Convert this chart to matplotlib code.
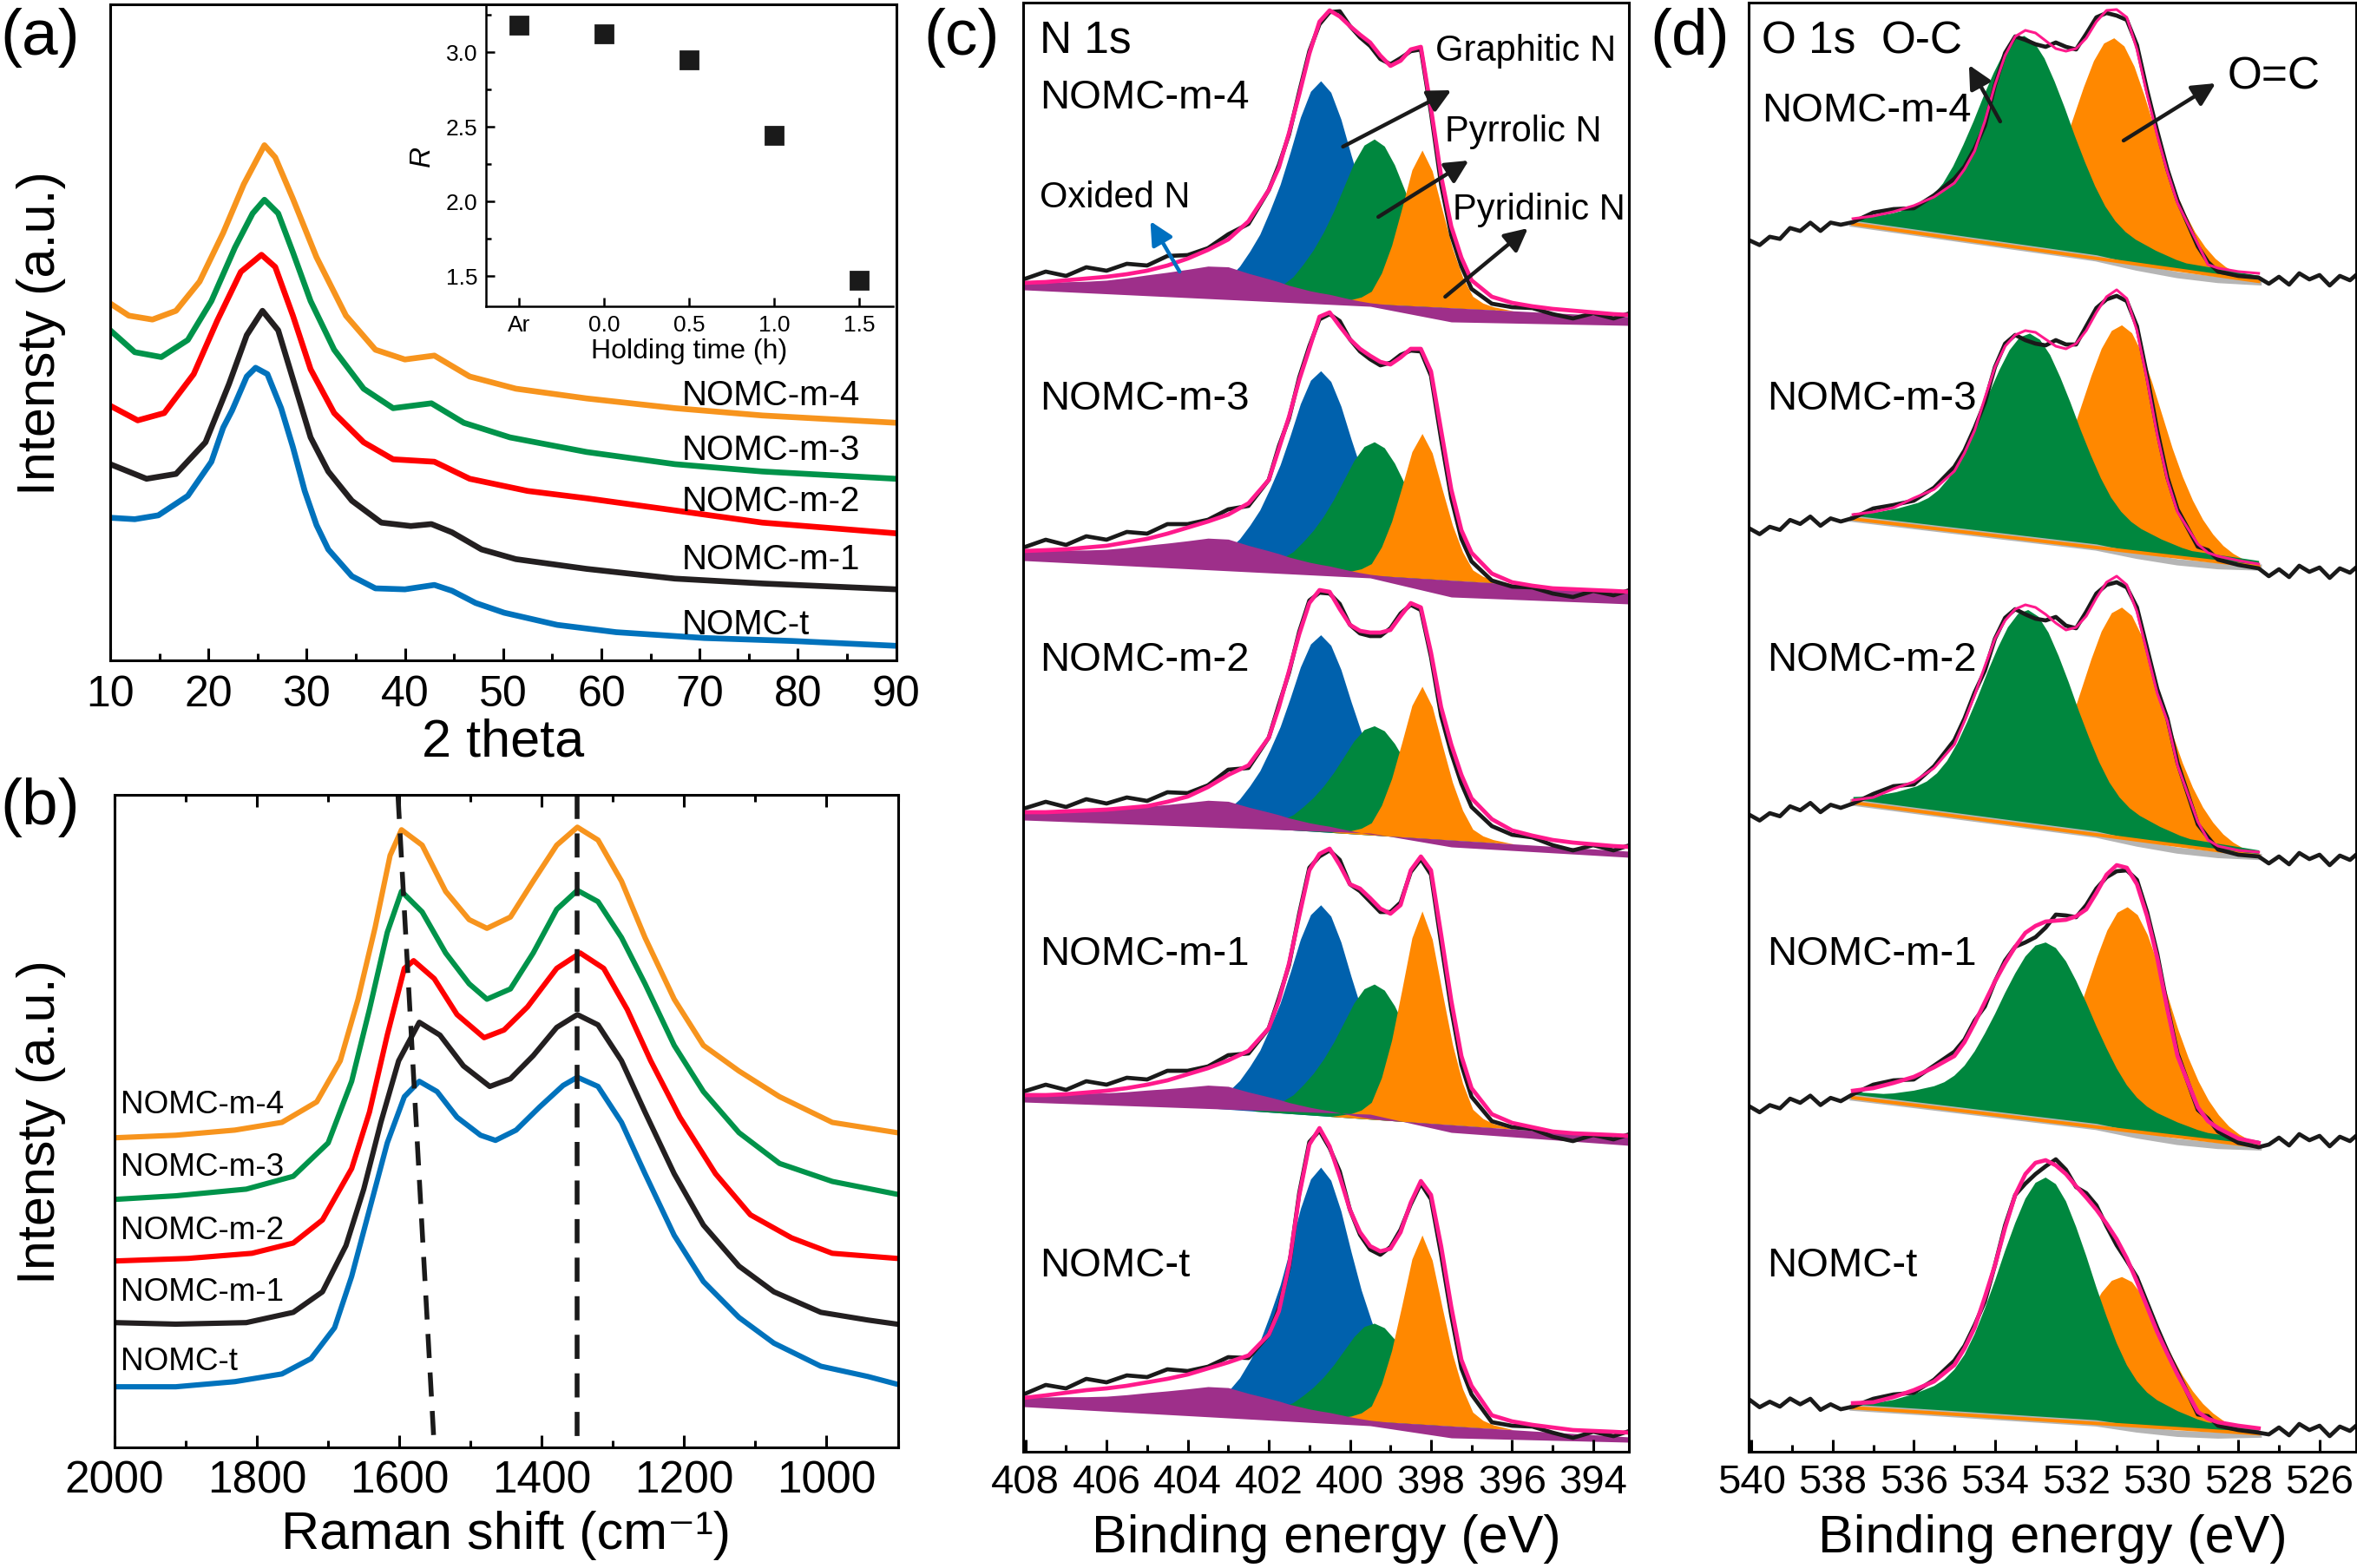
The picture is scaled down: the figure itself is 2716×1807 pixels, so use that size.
import numpy as np
import matplotlib
matplotlib.use("Agg")
import matplotlib.pyplot as plt
from matplotlib.ticker import MultipleLocator

plt.rcParams["font.family"] = ["Liberation Sans", "DejaVu Sans"]
plt.rcParams["axes.linewidth"] = 1.1
plt.rcParams["xtick.direction"] = "in"
plt.rcParams["ytick.direction"] = "in"

samples = ["NOMC-t", "NOMC-m-1", "NOMC-m-2", "NOMC-m-3", "NOMC-m-4"]
line_colors = {"NOMC-t": "#0072BC", "NOMC-m-1": "#231F20", "NOMC-m-2": "#FF0000",
               "NOMC-m-3": "#00934A", "NOMC-m-4": "#F7941D"}

# ---------------- (a) XRD ----------------
xrd_2theta = {
    "NOMC-t": [10.0, 12.5, 14.9, 17.9, 20.3, 21.5, 22.4, 23.9, 24.8, 26.0, 27.4, 28.6, 29.8, 31.0,
               32.2, 34.6, 37.0, 40.0, 43.0, 44.8, 47.2, 50.1, 55.5, 61.5, 70.5, 79.4, 90.0],
    "NOMC-m-1": [10.0, 13.7, 16.7, 19.7, 22.1, 23.9, 25.5, 27.1, 28.6, 30.4, 32.2, 34.6, 37.6, 40.6,
                 42.7, 44.8, 47.8, 51.3, 58.5, 67.5, 76.4, 90.0],
    "NOMC-m-2": [10.0, 12.8, 15.5, 18.5, 20.9, 23.3, 25.4, 26.8, 28.6, 30.4, 32.8, 35.8, 38.8, 43.0,
                 46.6, 52.5, 58.5, 67.5, 76.4, 90.0],
    "NOMC-m-3": [10.0, 12.5, 15.2, 17.9, 20.3, 22.7, 24.5, 25.7, 27.1, 28.6, 30.4, 32.8, 35.8, 38.8,
                 42.7, 46.0, 50.7, 58.5, 67.5, 76.4, 90.0],
    "NOMC-m-4": [10.0, 11.9, 14.3, 16.7, 19.1, 21.5, 23.6, 25.7, 26.8, 28.6, 31.0, 34.0, 37.0, 40.0,
                 43.0, 46.6, 51.3, 58.5, 67.5, 76.4, 90.0],
}
xrd_int = {
    "NOMC-t": [292, 289, 297, 337, 407, 477, 512, 582, 600, 587, 517, 437, 347, 277,
               227, 172, 147, 145, 154, 142, 117, 97, 72, 57, 45, 39, 29],
    "NOMC-m-1": [402, 372, 382, 447, 567, 667, 717, 677, 577, 457, 387, 327, 282, 275,
                 279, 262, 227, 207, 187, 167, 157, 145],
    "NOMC-m-2": [522, 492, 507, 587, 697, 797, 832, 807, 707, 597, 507, 447, 412, 407,
                 372, 347, 332, 307, 282, 260],
    "NOMC-m-3": [677, 632, 622, 657, 737, 847, 917, 945, 917, 837, 737, 637, 557, 517,
                 527, 487, 457, 427, 402, 387, 372],
    "NOMC-m-4": [732, 707, 699, 717, 777, 877, 977, 1057, 1032, 947, 827, 707, 637, 617,
                 625, 582, 557, 537, 517, 502, 487],
}
xrd_label_y = {"NOMC-t": 74, "NOMC-m-1": 207, "NOMC-m-2": 327, "NOMC-m-3": 432, "NOMC-m-4": 545}

hold_labels = ["Ar", "0.0", "0.5", "1.0", "1.5"]
hold_R = [3.18, 3.12, 2.945, 2.44, 1.47]

# ---------------- (b) Raman ----------------
raman_shift = {
    "NOMC-t": [2000, 1914, 1831, 1765, 1724, 1691, 1667, 1642, 1617, 1593, 1572, 1547, 1519, 1486, 1465,
               1436, 1403, 1370, 1350, 1321, 1288, 1255, 1214, 1173, 1123, 1074, 1008, 942, 901],
    "NOMC-m-1": [2000, 1914, 1815, 1749, 1708, 1675, 1650, 1626, 1601, 1572, 1543, 1510, 1473, 1444,
                 1412, 1379, 1350, 1321, 1288, 1255, 1214, 1173, 1123, 1074, 1008, 942, 901],
    "NOMC-m-2": [2000, 1897, 1807, 1749, 1708, 1667, 1642, 1617, 1593, 1580, 1551, 1519, 1481, 1453,
                 1420, 1379, 1346, 1313, 1280, 1247, 1206, 1156, 1107, 1049, 992, 901],
    "NOMC-m-3": [2000, 1914, 1815, 1749, 1700, 1667, 1642, 1617, 1597, 1568, 1535, 1502, 1477, 1444,
                 1412, 1379, 1350, 1321, 1288, 1255, 1214, 1173, 1123, 1066, 992, 901],
    "NOMC-m-4": [2000, 1914, 1831, 1765, 1716, 1683, 1658, 1634, 1613, 1597, 1568, 1535, 1502, 1477,
                 1444, 1412, 1379, 1350, 1321, 1288, 1255, 1214, 1173, 1123, 1066, 992, 901],
}
raman_int = {
    "NOMC-t": [118, 118, 128, 143, 173, 233, 333, 463, 593, 683, 713, 693, 643, 608, 598,
               618, 663, 705, 721, 703, 633, 533, 413, 323, 253, 203, 158, 138, 123],
    "NOMC-m-1": [243, 240, 243, 263, 303, 393, 503, 633, 753, 828, 803, 743, 703, 718,
                 763, 818, 843, 823, 753, 653, 533, 433, 353, 303, 263, 248, 240],
    "NOMC-m-2": [363, 368, 378, 398, 443, 543, 653, 803, 933, 948, 913, 843, 798, 813,
                 858, 933, 963, 933, 853, 753, 643, 533, 453, 408, 378, 368],
    "NOMC-m-3": [483, 490, 503, 528, 593, 713, 853, 1003, 1083, 1043, 963, 903, 873, 893,
                 963, 1048, 1085, 1063, 993, 903, 783, 693, 613, 553, 518, 493],
    "NOMC-m-4": [603, 608, 618, 633, 673, 753, 873, 1013, 1153, 1203, 1173, 1083, 1028, 1011,
                 1033, 1103, 1173, 1208, 1183, 1103, 993, 873, 783, 733, 683, 633, 613],
}
raman_label_y = {"NOMC-t": 168, "NOMC-m-1": 303, "NOMC-m-2": 423, "NOMC-m-3": 546, "NOMC-m-4": 668}
raman_dash_x = [[1602, 1551], [1350, 1350]]

# ---------------- (c) N 1s ----------------
n1s_be = [408.05, 407.5, 407, 406.5, 406, 405.5, 405, 404.5, 404, 403.5, 403, 402.5, 402, 401.75,
          401.5, 401.25, 401, 400.75, 400.5, 400.25, 400, 399.75, 399.5, 399.25, 399, 398.75, 398.5,
          398.25, 398, 397.75, 397.5, 397.25, 397, 396.5, 396, 395.5, 395, 394.5, 394, 393.5, 393.1]
n1s_env = {
    "NOMC-m-4": [1301, 1302, 1304, 1306, 1308, 1311, 1315, 1321, 1329, 1339, 1351, 1372, 1408, 1434,
                 1474, 1518, 1565, 1602, 1615, 1608, 1597, 1587, 1578, 1563, 1551, 1557, 1570, 1573,
                 1502, 1424, 1366, 1330, 1304, 1285, 1278, 1274, 1271, 1269, 1267, 1265, 1264],
    "NOMC-m-3": [992, 993, 994, 996, 998, 1002, 1006, 1012, 1019, 1026, 1034, 1047, 1074, 1110,
                 1147, 1189, 1225, 1262, 1267, 1251, 1236, 1225, 1217, 1210, 1207, 1215, 1225, 1225,
                 1199, 1131, 1063, 1016, 990, 966, 956, 952, 949, 948, 947, 946, 945],
    "NOMC-m-2": [691, 691, 692, 693, 694, 696, 698, 703, 709, 720, 734, 745, 777, 812,
                 854, 896, 932, 947, 945, 925, 907, 900, 898, 898, 901, 917, 932, 927,
                 875, 812, 769, 734, 707, 683, 670, 664, 659, 656, 654, 652, 651],
    "NOMC-m-1": [365, 365, 366, 368, 370, 373, 377, 382, 389, 396, 405, 416, 442, 474,
                 517, 571, 624, 643, 649, 630, 608, 603, 592, 580, 574, 584, 624, 640,
                 624, 550, 474, 410, 373, 343, 333, 328, 323, 321, 320, 319, 318],
    "NOMC-t": [16, 19, 22, 25, 27, 30, 34, 38, 43, 50, 57, 65, 89, 116,
               169, 249, 308, 327, 306, 271, 233, 207, 191, 185, 188, 207, 241, 266,
               250, 191, 121, 60, 30, -4, -11, -15, -18, -21, -22, -23, -24],
}
n1s_noise = [4, 12, 5, 13, 7, 12, 6, 11, 4, 2, 6, -3, 0, 3, -2, 3, 3, -3, -2, 6, 0, -3, -4, -4, 2, 3,
             -2, -3, -5, -10, -10, -10, -10, -8, -5, -2, -6, -9, -1, -5, 2]
n1s_base_hi = {"NOMC-m-4": [1297, 1262], "NOMC-m-3": [989, 945.5], "NOMC-m-2": [690, 646],
               "NOMC-m-1": [365, 316.5], "NOMC-t": [14, -29]}
n1s_base_lo_be = [408.05, 399.5, 397.5, 393.1]
n1s_base_lo = {"NOMC-m-4": [1293, 1274, 1256, 1252], "NOMC-m-3": [981, 961, 939, 931],
               "NOMC-m-2": [682, 667, 651, 639], "NOMC-m-1": [357, 343, 322, 307],
               "NOMC-t": [6, -16, -30, -35]}
n1s_center = {"blue": 400.72, "green": 399.4, "orange": 398.22}
n1s_height = {
    "blue": {"NOMC-m-4": 254, "NOMC-m-3": 232, "NOMC-m-2": 227, "NOMC-m-1": 243, "NOMC-t": 289},
    "green": {"NOMC-m-4": 190, "NOMC-m-3": 154, "NOMC-m-2": 126, "NOMC-m-1": 156, "NOMC-t": 113},
    "orange": {"NOMC-m-4": 180, "NOMC-m-3": 167, "NOMC-m-2": 175, "NOMC-m-1": 244, "NOMC-t": 218},
    "purple": {"NOMC-m-4": 35, "NOMC-m-3": 32, "NOMC-m-2": 29, "NOMC-m-1": 27, "NOMC-t": 29},
}
# half profiles read at 0, 0.25 ... 3.0 eV from the peak centre
n1s_half_profile = {
    "blue": [1.00, 0.95, 0.83, 0.67, 0.52, 0.40, 0.29, 0.21, 0.14, 0.09, 0.05, 0.02, 0.0],
    "green": [1.00, 0.96, 0.85, 0.70, 0.55, 0.42, 0.31, 0.22, 0.14, 0.09, 0.05, 0.02, 0.0],
    "orange": [1.00, 0.87, 0.62, 0.38, 0.20, 0.08, 0.04, 0.02, 0.01, 0.0, 0.0, 0.0, 0.0],
}
n1s_purple_profile = [0.10, 0.16, 0.22, 0.27, 0.34, 0.45, 0.58, 0.70, 0.83, 0.97, 0.98, 0.80, 0.65,
                      0.57, 0.47, 0.40, 0.33, 0.28, 0.24, 0.18, 0.12, 0.07, 0.03, 0.01] + [0.0] * 17
n1s_label_y = {"NOMC-m-4": 1515, "NOMC-m-3": 1168, "NOMC-m-2": 867, "NOMC-m-1": 528, "NOMC-t": 169}

# ---------------- (d) O 1s ----------------
o1s_be = [537.5, 537, 536.5, 536, 535.5, 535, 534.75, 534.5, 534.25, 534, 533.75, 533.5, 533.25,
          533, 532.75, 532.5, 532.25, 532, 531.75, 531.5, 531.25, 531, 530.75, 530.5, 530.25, 530,
          529.75, 529.5, 529, 528.75, 528.5, 528, 527.5]
o1s_env = {
    "NOMC-m-4": [1375, 1378, 1383, 1390, 1400, 1416, 1432, 1453, 1487, 1529, 1563, 1585, 1592, 1589,
                 1580, 1571, 1568, 1571, 1583, 1602, 1615, 1616, 1607, 1570, 1518, 1471, 1429, 1393,
                 1346, 1322, 1318, 1314, 1312],
    "NOMC-m-3": [1034, 1037, 1042, 1053, 1063, 1084, 1105, 1131, 1168, 1204, 1228, 1241, 1246, 1244,
                 1236, 1228, 1225, 1231, 1246, 1267, 1285, 1293, 1283, 1246, 1189, 1126, 1074, 1037,
                 1000, 990, 986, 981, 977],
    "NOMC-m-2": [705, 708, 718, 726, 742, 769, 796, 826, 859, 891, 912, 925, 930, 927,
                 919, 909, 901, 904, 917, 938, 956, 963, 953, 922, 875, 828, 796, 745,
                 680, 659, 652, 647, 645],
    "NOMC-m-1": [370, 373, 379, 386, 397, 410, 426, 448, 472, 496, 517, 536, 552, 560,
                 565, 566, 567, 571, 579, 598, 619, 630, 627, 608, 571, 523, 464, 410,
                 351, 335, 327, 315, 310],
    "NOMC-t": [10, 11, 17, 25, 35, 54, 73, 97, 132, 169, 212, 250, 274, 287,
               290, 284, 274, 260, 247, 233, 217, 199, 177, 150, 121, 92, 67, 43,
               0, -8, -12, -16, -19],
}
o1s_mid_noise = [-4, 4, 3, -3, 2, 5, 3, 3, -5, 0, 3, 0, -11, -13, -7, 7, 5, -1, 5, 5, -3, -7, -3,
                 5, 5, 5, 3, 3, -3, 3, -4, -5, -5]
o1s_left_be = [540.05, 539.8, 539.55, 539.3, 539.05, 538.8, 538.55, 538.3, 538.05, 537.8]
o1s_left_noise = [2, -6, 1, -4, 6, 0, 7, -5, 2, -3]
o1s_right_be = [527.25, 527.0, 526.75, 526.5, 526.25, 526.0, 525.75, 525.5, 525.25, 525.1]
o1s_right_noise = [-6, 2, -7, 6, -1, 4, -8, 3, -2, 4]
o1s_tail = {"NOMC-m-4": [1348, 1371, 1306], "NOMC-m-3": [1016, 1029, 969], "NOMC-m-2": [686, 699, 638],
            "NOMC-m-1": [350, 361, 314], "NOMC-t": [12, 6, -20]}
o1s_base = {"NOMC-m-4": [1369, 1302.7], "NOMC-m-3": [1029, 974], "NOMC-m-2": [702, 640.5],
            "NOMC-m-1": [362, 305.8], "NOMC-t": [4.7, -25.3]}
o1s_gray_be = [537.5, 531.5, 530.5, 529.5, 528.5, 527.5]
o1s_gray_drop = [0, 0, 4, 6, 5, 1]
o1s_green_center = {"NOMC-m-4": 533.29, "NOMC-m-3": 533.15, "NOMC-m-2": 533.19, "NOMC-m-1": 532.76, "NOMC-t": 532.76}
o1s_orange_center = {"NOMC-m-4": 531.07, "NOMC-m-3": 530.88, "NOMC-m-2": 530.88, "NOMC-m-1": 530.74, "NOMC-t": 530.88}
o1s_green_height = {"NOMC-m-4": 238, "NOMC-m-3": 231, "NOMC-m-2": 242, "NOMC-m-1": 199, "NOMC-t": 273}
o1s_orange_height = {"NOMC-m-4": 257, "NOMC-m-3": 260, "NOMC-m-2": 266, "NOMC-m-1": 258, "NOMC-t": 171}
o1s_green_step = 7
# half profiles read at 0, 0.25 ... 4.0 eV from the peak centre
o1s_half_profile = {
    "green": [1, .975, .905, .80, .68, .55, .43, .32, .23, .165, .12, .09, .07, .05, .035, .02, .01],
    "orange": [1, .97, .885, .76, .62, .48, .36, .26, .18, .12, .075, .045, .025, .015, .008, .004, 0],
}
o1s_pink_lw = {"NOMC-m-4": 1.1, "NOMC-m-3": 1.1, "NOMC-m-2": 1.1, "NOMC-m-1": 1.7, "NOMC-t": 1.7}
o1s_label_pos = {"NOMC-m-4": (539.75, 1500), "NOMC-m-3": (539.61, 1168), "NOMC-m-2": (539.61, 867),
                 "NOMC-m-1": (539.61, 528), "NOMC-t": (539.61, 169)}

XPS_BLUE, XPS_GREEN, XPS_ORANGE = "#0061AD", "#00873E", "#FF8800"
XPS_PURPLE, PINK, GRAY, BLK = "#9E2F8A", "#FF1A8C", "#B5B5B5", "#1A1A1A"


def mirror(half):
    h = np.asarray(half, dtype=float)
    return np.concatenate([h[:0:-1], h])


fig = plt.figure(figsize=(13.58, 9.04), dpi=200)

# ---- panel (a)
axa = fig.add_axes([0.04676, 0.5788, 0.3334, 0.4181])
for s in samples:
    axa.plot(xrd_2theta[s], xrd_int[s], color=line_colors[s], lw=2.4, solid_joinstyle="round")
    axa.text(68.2, xrd_label_y[s], s, fontsize=14.5, va="center", ha="left")
axa.set_xlim(10, 90)
axa.set_ylim(0, 1347)
axa.xaxis.set_major_locator(MultipleLocator(10))
axa.xaxis.set_minor_locator(MultipleLocator(5))
axa.tick_params(axis="x", which="major", length=5, width=1.1, labelsize=18, pad=6)
axa.tick_params(axis="x", which="minor", length=3, width=1.1)
axa.set_yticks([])
axa.set_xlabel("2 theta", fontsize=22)
axa.xaxis.set_label_coords(0.5, -0.125)
axa.xaxis.label.set_va("center")
axa.set_ylabel("Intensty (a.u.)", fontsize=22)
axa.yaxis.set_label_coords(-0.088, 0.5)
axa.yaxis.label.set_va("center")

# inset: R against holding time
axi = fig.add_axes([0.2062, 0.80448, 0.1727, 0.1911])
axi.plot(range(len(hold_R)), hold_R, "s", color="#1A1A1A", ms=7)
axi.set_xlim(-0.39, 4.4)
axi.set_ylim(1.298, 3.306)
axi.set_xticks(range(len(hold_labels)))
axi.set_xticklabels(hold_labels)
axi.set_yticks([1.5, 2.0, 2.5, 3.0])
axi.yaxis.set_minor_locator(MultipleLocator(0.25))
axi.spines["top"].set_visible(False)
axi.spines["right"].set_visible(False)
axi.patch.set_alpha(0)
axi.tick_params(which="major", length=3.5, width=0.9, labelsize=9.5, pad=3.5)
axi.tick_params(which="minor", length=2, width=0.9)
for sp in axi.spines.values():
    sp.set_linewidth(0.9)
axi.set_xlabel("Holding time (h)", fontsize=11.5)
axi.xaxis.set_label_coords(0.5, -0.15)
axi.xaxis.label.set_va("center")
axi.set_ylabel("R", fontsize=12, style="italic")
axi.yaxis.set_label_coords(-0.156, 0.503)
axi.yaxis.label.set_va("center")

# ---- panel (b)
axb = fig.add_axes([0.0486, 0.0769, 0.3323, 0.4159])
for s in samples:
    axb.plot(raman_shift[s], raman_int[s], color=line_colors[s], lw=2.2, solid_joinstyle="round")
    axb.text(1992, raman_label_y[s], s, fontsize=13.3, va="center", ha="left")
for xs in raman_dash_x:
    axb.plot(xs, [1271, 0], color="#1A1A1A", lw=2.0, ls=(0, (5, 3)))
axb.set_xlim(2000, 900)
axb.set_ylim(0, 1271)
axb.xaxis.set_major_locator(MultipleLocator(200))
axb.xaxis.set_minor_locator(MultipleLocator(100))
axb.tick_params(axis="x", which="major", top=True, length=5, width=1.1, labelsize=18.5, pad=5)
axb.tick_params(axis="x", which="minor", top=True, length=3, width=1.1)
axb.set_yticks([])
axb.set_xlabel("Raman shift (cm\u207b\u00b9)", fontsize=22)
axb.xaxis.set_label_coords(0.5, -0.134)
axb.xaxis.label.set_va("center")
axb.set_ylabel("Intensty (a.u.)", fontsize=22)
axb.yaxis.set_label_coords(-0.094, 0.5)
axb.yaxis.label.set_va("center")

# ---- panel (c)
axc = fig.add_axes([0.4341, 0.0741, 0.2570, 0.9237])
n1s_off = np.arange(-3.0, 3.01, 0.25)
be_c = np.array(n1s_be)
for s in samples:
    bl, br = n1s_base_hi[s]
    hi = lambda x: np.interp(x, [393.1, 408.05], [br, bl])
    for comp, col in [("blue", XPS_BLUE), ("green", XPS_GREEN), ("orange", XPS_ORANGE)]:
        x = n1s_center[comp] + n1s_off
        b = hi(x)
        axc.fill_between(x, b, b + n1s_height[comp][s] * mirror(n1s_half_profile[comp]),
                         color=col, lw=0)
    lo = np.interp(be_c, n1s_base_lo_be[::-1], n1s_base_lo[s][::-1])
    axc.fill_between(be_c, lo, hi(be_c) + n1s_height["purple"][s] * np.array(n1s_purple_profile),
                     color=XPS_PURPLE, lw=0)
    axc.plot(be_c, np.array(n1s_env[s]) + np.array(n1s_noise), color=BLK, lw=1.7)
    axc.plot(be_c, n1s_env[s], color=PINK, lw=1.7)
    axc.text(407.64, n1s_label_y[s], s, fontsize=17, va="center", ha="left")
axc.text(407.64, 1581, "N 1s", fontsize=18.5, va="center", ha="left")
axc.text(397.89, 1569, "Graphitic N", fontsize=15, va="center", ha="left")
axc.text(397.65, 1476, "Pyrrolic N", fontsize=15, va="center", ha="left")
axc.text(397.46, 1386, "Pyridinic N", fontsize=15, va="center", ha="left")
axc.text(407.66, 1400, "Oxided N", fontsize=15, va="center", ha="left")
arrow_kw = dict(arrowstyle="-|>", lw=1.6, mutation_scale=20, shrinkA=0, shrinkB=0)
for tail, head in [((400.17, 1458), (397.5, 1523)), ((399.3, 1377), (397.07, 1442)),
                   ((397.65, 1285), (395.61, 1364))]:
    axc.annotate("", xy=head, xytext=tail, arrowprops=dict(color="#1A1A1A", **arrow_kw))
axc.annotate("", xy=(404.92, 1372), xytext=(404.2, 1314),
             arrowprops=dict(color="#0070C0", **arrow_kw))
axc.set_xlim(408.056, 393.12)
axc.set_ylim(-46, 1624)
axc.xaxis.set_major_locator(MultipleLocator(2))
axc.xaxis.set_minor_locator(MultipleLocator(1))
axc.tick_params(axis="x", which="major", length=5, width=1.1, labelsize=17, pad=4.5)
axc.tick_params(axis="x", which="minor", length=3, width=1.1)
axc.set_yticks([])
axc.set_xlabel("Binding energy (eV)", fontsize=22)
axc.xaxis.set_label_coords(0.5, -0.0593)
axc.xaxis.label.set_va("center")

# ---- panel (d)
axd = fig.add_axes([0.7419, 0.0741, 0.2577, 0.9237])
o1s_off = np.arange(-4.0, 4.01, 0.25)
be_d = np.array(o1s_be)
for s in samples:
    bl, br = o1s_base[s]
    base = lambda x: np.interp(x, [527.5, 537.5], [br, bl])
    gx = np.array(o1s_gray_be)
    axd.plot(gx, base(gx) - np.array(o1s_gray_drop), color=GRAY, lw=2.6)
    # O=C component
    x = o1s_orange_center[s] + o1s_off
    p = mirror(o1s_half_profile["orange"])
    keep = (x >= 527.5) & (x <= 537.5)
    x, p = x[keep], p[keep]
    axd.fill_between(x, base(x), base(x) + o1s_orange_height[s] * p, color=XPS_ORANGE, lw=0)
    # O-C component, sitting on the small background step
    x = np.concatenate([[527.5], o1s_green_center[s] + o1s_off, [537.5]])
    p = np.concatenate([[0.0], mirror(o1s_half_profile["green"]), [0.0]])
    axd.fill_between(x, base(x), base(x) + o1s_green_step + o1s_green_height[s] * p,
                     color=XPS_GREEN, lw=0)
    axd.plot([537.5, 527.5], [bl, br], color=XPS_ORANGE, lw=1.4)
    L0, L1, R = o1s_tail[s]
    left = np.interp(o1s_left_be, [537.8, 540.05], [L1, L0]) + np.array(o1s_left_noise)
    right = R + np.array(o1s_right_noise)
    raw_x = np.concatenate([o1s_left_be, be_d, o1s_right_be])
    raw_y = np.concatenate([left, np.array(o1s_env[s]) + np.array(o1s_mid_noise), right])
    axd.plot(raw_x, raw_y, color=BLK, lw=1.7)
    axd.plot(be_d, o1s_env[s], color=PINK, lw=o1s_pink_lw[s])
    lx, ly = o1s_label_pos[s]
    axd.text(lx, ly, s, fontsize=17, va="center", ha="left")
axd.text(539.75, 1580, "O 1s", fontsize=18.5, va="center", ha="left")
axd.text(536.81, 1580, "O-C", fontsize=18.5, va="center", ha="left")
axd.text(528.28, 1539, "O=C", fontsize=18.5, va="center", ha="left")
axd.annotate("", xy=(534.64, 1552), xytext=(533.87, 1487), arrowprops=dict(color="#1A1A1A", **arrow_kw))
axd.annotate("", xy=(528.56, 1531), xytext=(530.83, 1465), arrowprops=dict(color="#1A1A1A", **arrow_kw))
axd.set_xlim(540.07, 525.1)
axd.set_ylim(-46, 1624)
axd.xaxis.set_major_locator(MultipleLocator(2))
axd.xaxis.set_minor_locator(MultipleLocator(1))
axd.tick_params(axis="x", which="major", length=5, width=1.1, labelsize=17, pad=4.5)
axd.tick_params(axis="x", which="minor", length=3, width=1.1)
axd.set_yticks([])
axd.set_xlabel("Binding energy (eV)", fontsize=22)
axd.xaxis.set_label_coords(0.5, -0.0593)
axd.xaxis.label.set_va("center")

# panel letters
for txt, xf, yf in [("(a)", 0.0, 0.976), ("(b)", 0.0, 0.4856), ("(c)", 0.392, 0.976), ("(d)", 0.700, 0.976)]:
    fig.text(xf, yf, txt, fontsize=27, va="center", ha="left")

fig.savefig("out.png", dpi=200, facecolor="white")
